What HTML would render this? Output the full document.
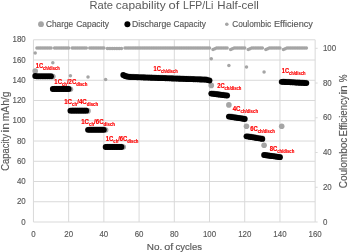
<!DOCTYPE html>
<html><head><meta charset="utf-8"><title>Rate capability of LFP/Li Half-cell</title>
<style>
html,body{margin:0;padding:0;background:#fff;}
body{width:350px;height:252px;overflow:hidden;font-family:"Liberation Sans", sans-serif;}
svg{display:block;will-change:transform;}
text{font-family:"Liberation Sans", sans-serif;}
.g text{stroke:#595959;stroke-width:0.15px;}
.g text.t{stroke:none;}
</style></head>
<body>
<svg width="350" height="252" viewBox="0 0 350 252">
<rect width="350" height="252" fill="#fff"/>
<line x1="33.44" y1="222.00" x2="315.15" y2="222.00" stroke="#d9d9d9" stroke-width="1"/>
<line x1="33.44" y1="201.76" x2="315.15" y2="201.76" stroke="#d9d9d9" stroke-width="1"/>
<line x1="33.44" y1="181.51" x2="315.15" y2="181.51" stroke="#d9d9d9" stroke-width="1"/>
<line x1="33.44" y1="161.27" x2="315.15" y2="161.27" stroke="#d9d9d9" stroke-width="1"/>
<line x1="33.44" y1="141.02" x2="315.15" y2="141.02" stroke="#d9d9d9" stroke-width="1"/>
<line x1="33.44" y1="120.78" x2="315.15" y2="120.78" stroke="#d9d9d9" stroke-width="1"/>
<line x1="33.44" y1="100.53" x2="315.15" y2="100.53" stroke="#d9d9d9" stroke-width="1"/>
<line x1="33.44" y1="80.29" x2="315.15" y2="80.29" stroke="#d9d9d9" stroke-width="1"/>
<line x1="33.44" y1="60.04" x2="315.15" y2="60.04" stroke="#d9d9d9" stroke-width="1"/>
<line x1="33.44" y1="39.80" x2="315.15" y2="39.80" stroke="#d9d9d9" stroke-width="1"/>
<line x1="33.44" y1="39.80" x2="33.44" y2="222.00" stroke="#d9d9d9" stroke-width="1"/>
<line x1="68.65" y1="39.80" x2="68.65" y2="222.00" stroke="#d9d9d9" stroke-width="1"/>
<line x1="103.87" y1="39.80" x2="103.87" y2="222.00" stroke="#d9d9d9" stroke-width="1"/>
<line x1="139.08" y1="39.80" x2="139.08" y2="222.00" stroke="#d9d9d9" stroke-width="1"/>
<line x1="174.30" y1="39.80" x2="174.30" y2="222.00" stroke="#d9d9d9" stroke-width="1"/>
<line x1="209.51" y1="39.80" x2="209.51" y2="222.00" stroke="#d9d9d9" stroke-width="1"/>
<line x1="244.72" y1="39.80" x2="244.72" y2="222.00" stroke="#d9d9d9" stroke-width="1"/>
<line x1="279.94" y1="39.80" x2="279.94" y2="222.00" stroke="#d9d9d9" stroke-width="1"/>
<line x1="315.15" y1="39.80" x2="315.15" y2="222.00" stroke="#d9d9d9" stroke-width="1"/>
<line x1="315.15" y1="222.00" x2="317.65" y2="222.00" stroke="#d9d9d9" stroke-width="1"/>
<line x1="315.15" y1="187.26" x2="317.65" y2="187.26" stroke="#d9d9d9" stroke-width="1"/>
<line x1="315.15" y1="152.52" x2="317.65" y2="152.52" stroke="#d9d9d9" stroke-width="1"/>
<line x1="315.15" y1="117.78" x2="317.65" y2="117.78" stroke="#d9d9d9" stroke-width="1"/>
<line x1="315.15" y1="83.04" x2="317.65" y2="83.04" stroke="#d9d9d9" stroke-width="1"/>
<line x1="315.15" y1="48.30" x2="317.65" y2="48.30" stroke="#d9d9d9" stroke-width="1"/>
<g fill="#a5a5a5">
<circle cx="35.20" cy="71.10" r="2.8"/>
<circle cx="36.96" cy="75.80" r="2.8"/>
<circle cx="38.72" cy="75.80" r="2.8"/>
<circle cx="40.48" cy="75.80" r="2.8"/>
<circle cx="42.24" cy="75.80" r="2.8"/>
<circle cx="44.00" cy="75.80" r="2.8"/>
<circle cx="45.76" cy="75.80" r="2.8"/>
<circle cx="47.53" cy="75.80" r="2.8"/>
<circle cx="49.29" cy="75.80" r="2.8"/>
<circle cx="51.05" cy="75.80" r="2.8"/>
<circle cx="52.81" cy="76.60" r="2.8"/>
<circle cx="54.57" cy="88.50" r="2.8"/>
<circle cx="56.33" cy="88.50" r="2.8"/>
<circle cx="58.09" cy="88.50" r="2.8"/>
<circle cx="59.85" cy="88.50" r="2.8"/>
<circle cx="61.61" cy="88.50" r="2.8"/>
<circle cx="63.37" cy="88.50" r="2.8"/>
<circle cx="65.13" cy="88.50" r="2.8"/>
<circle cx="66.89" cy="88.50" r="2.8"/>
<circle cx="68.65" cy="88.50" r="2.8"/>
<circle cx="70.41" cy="89.20" r="2.8"/>
<circle cx="72.18" cy="110.20" r="2.8"/>
<circle cx="73.94" cy="110.20" r="2.8"/>
<circle cx="75.70" cy="110.20" r="2.8"/>
<circle cx="77.46" cy="110.20" r="2.8"/>
<circle cx="79.22" cy="110.20" r="2.8"/>
<circle cx="80.98" cy="110.20" r="2.8"/>
<circle cx="82.74" cy="110.20" r="2.8"/>
<circle cx="84.50" cy="110.20" r="2.8"/>
<circle cx="86.26" cy="110.20" r="2.8"/>
<circle cx="88.02" cy="110.90" r="2.8"/>
<circle cx="89.78" cy="129.30" r="2.8"/>
<circle cx="91.54" cy="129.30" r="2.8"/>
<circle cx="93.30" cy="129.30" r="2.8"/>
<circle cx="95.06" cy="129.30" r="2.8"/>
<circle cx="96.83" cy="129.30" r="2.8"/>
<circle cx="98.59" cy="129.30" r="2.8"/>
<circle cx="100.35" cy="129.30" r="2.8"/>
<circle cx="102.11" cy="129.30" r="2.8"/>
<circle cx="103.87" cy="129.30" r="2.8"/>
<circle cx="105.63" cy="130.00" r="2.8"/>
<circle cx="107.39" cy="146.50" r="2.8"/>
<circle cx="109.15" cy="146.50" r="2.8"/>
<circle cx="110.91" cy="146.50" r="2.8"/>
<circle cx="112.67" cy="146.50" r="2.8"/>
<circle cx="114.43" cy="146.50" r="2.8"/>
<circle cx="116.19" cy="146.50" r="2.8"/>
<circle cx="117.95" cy="146.50" r="2.8"/>
<circle cx="119.71" cy="146.50" r="2.8"/>
<circle cx="121.47" cy="146.50" r="2.8"/>
<circle cx="123.24" cy="147.00" r="2.8"/>
<circle cx="125.00" cy="75.50" r="2.8"/>
<circle cx="126.76" cy="76.00" r="2.8"/>
<circle cx="128.52" cy="76.30" r="2.8"/>
<circle cx="130.28" cy="76.50" r="2.8"/>
<circle cx="132.04" cy="76.56" r="2.8"/>
<circle cx="133.80" cy="76.62" r="2.8"/>
<circle cx="135.56" cy="76.69" r="2.8"/>
<circle cx="137.32" cy="76.75" r="2.8"/>
<circle cx="139.08" cy="76.81" r="2.8"/>
<circle cx="140.84" cy="76.87" r="2.8"/>
<circle cx="142.60" cy="76.94" r="2.8"/>
<circle cx="144.36" cy="77.00" r="2.8"/>
<circle cx="146.12" cy="77.06" r="2.8"/>
<circle cx="147.89" cy="77.12" r="2.8"/>
<circle cx="149.65" cy="77.18" r="2.8"/>
<circle cx="151.41" cy="77.25" r="2.8"/>
<circle cx="153.17" cy="77.31" r="2.8"/>
<circle cx="154.93" cy="77.37" r="2.8"/>
<circle cx="156.69" cy="77.43" r="2.8"/>
<circle cx="158.45" cy="77.50" r="2.8"/>
<circle cx="160.21" cy="77.56" r="2.8"/>
<circle cx="161.97" cy="77.62" r="2.8"/>
<circle cx="163.73" cy="77.68" r="2.8"/>
<circle cx="165.49" cy="77.74" r="2.8"/>
<circle cx="167.25" cy="77.81" r="2.8"/>
<circle cx="169.01" cy="77.87" r="2.8"/>
<circle cx="170.77" cy="77.93" r="2.8"/>
<circle cx="172.54" cy="77.99" r="2.8"/>
<circle cx="174.30" cy="78.06" r="2.8"/>
<circle cx="176.06" cy="78.12" r="2.8"/>
<circle cx="177.82" cy="78.18" r="2.8"/>
<circle cx="179.58" cy="78.24" r="2.8"/>
<circle cx="181.34" cy="78.30" r="2.8"/>
<circle cx="183.10" cy="78.37" r="2.8"/>
<circle cx="184.86" cy="78.43" r="2.8"/>
<circle cx="186.62" cy="78.49" r="2.8"/>
<circle cx="188.38" cy="78.55" r="2.8"/>
<circle cx="190.14" cy="78.62" r="2.8"/>
<circle cx="191.90" cy="78.68" r="2.8"/>
<circle cx="193.66" cy="78.74" r="2.8"/>
<circle cx="195.42" cy="78.80" r="2.8"/>
<circle cx="197.19" cy="78.86" r="2.8"/>
<circle cx="198.95" cy="78.93" r="2.8"/>
<circle cx="200.71" cy="78.99" r="2.8"/>
<circle cx="202.47" cy="79.05" r="2.8"/>
<circle cx="204.23" cy="79.11" r="2.8"/>
<circle cx="205.99" cy="79.18" r="2.8"/>
<circle cx="207.75" cy="79.60" r="2.8"/>
<circle cx="209.51" cy="80.10" r="2.8"/>
<circle cx="211.27" cy="85.40" r="2.8"/>
<circle cx="213.03" cy="93.32" r="2.8"/>
<circle cx="214.79" cy="93.54" r="2.8"/>
<circle cx="216.55" cy="93.77" r="2.8"/>
<circle cx="218.31" cy="93.99" r="2.8"/>
<circle cx="220.07" cy="94.21" r="2.8"/>
<circle cx="221.83" cy="94.43" r="2.8"/>
<circle cx="223.60" cy="94.66" r="2.8"/>
<circle cx="225.36" cy="94.88" r="2.8"/>
<circle cx="227.12" cy="95.10" r="2.8"/>
<circle cx="228.88" cy="104.90" r="2.8"/>
<circle cx="230.64" cy="116.37" r="2.8"/>
<circle cx="232.40" cy="116.63" r="2.8"/>
<circle cx="234.16" cy="116.90" r="2.8"/>
<circle cx="235.92" cy="117.17" r="2.8"/>
<circle cx="237.68" cy="117.43" r="2.8"/>
<circle cx="239.44" cy="117.70" r="2.8"/>
<circle cx="241.20" cy="117.97" r="2.8"/>
<circle cx="242.96" cy="118.23" r="2.8"/>
<circle cx="244.72" cy="118.50" r="2.8"/>
<circle cx="246.48" cy="126.30" r="2.8"/>
<circle cx="248.25" cy="136.09" r="2.8"/>
<circle cx="250.01" cy="136.38" r="2.8"/>
<circle cx="251.77" cy="136.67" r="2.8"/>
<circle cx="253.53" cy="136.96" r="2.8"/>
<circle cx="255.29" cy="137.24" r="2.8"/>
<circle cx="257.05" cy="137.53" r="2.8"/>
<circle cx="258.81" cy="137.82" r="2.8"/>
<circle cx="260.57" cy="138.11" r="2.8"/>
<circle cx="262.33" cy="138.40" r="2.8"/>
<circle cx="264.09" cy="145.20" r="2.8"/>
<circle cx="265.85" cy="154.74" r="2.8"/>
<circle cx="267.61" cy="154.99" r="2.8"/>
<circle cx="269.37" cy="155.23" r="2.8"/>
<circle cx="271.13" cy="155.48" r="2.8"/>
<circle cx="272.90" cy="155.72" r="2.8"/>
<circle cx="274.66" cy="155.97" r="2.8"/>
<circle cx="276.42" cy="156.21" r="2.8"/>
<circle cx="278.18" cy="156.46" r="2.8"/>
<circle cx="279.94" cy="156.70" r="2.8"/>
<circle cx="281.70" cy="126.30" r="2.8"/>
<circle cx="283.46" cy="81.39" r="2.8"/>
<circle cx="285.22" cy="81.49" r="2.8"/>
<circle cx="286.98" cy="81.58" r="2.8"/>
<circle cx="288.74" cy="81.67" r="2.8"/>
<circle cx="290.50" cy="81.76" r="2.8"/>
<circle cx="292.26" cy="81.86" r="2.8"/>
<circle cx="294.02" cy="81.95" r="2.8"/>
<circle cx="295.78" cy="82.04" r="2.8"/>
<circle cx="297.55" cy="82.14" r="2.8"/>
<circle cx="299.31" cy="82.23" r="2.8"/>
<circle cx="301.07" cy="82.32" r="2.8"/>
<circle cx="302.83" cy="82.41" r="2.8"/>
<circle cx="304.59" cy="82.51" r="2.8"/>
<circle cx="306.35" cy="82.60" r="2.8"/>
</g>
<g fill="#000">
<circle cx="35.20" cy="76.00" r="2.9"/>
<circle cx="36.96" cy="76.30" r="2.9"/>
<circle cx="38.72" cy="76.30" r="2.9"/>
<circle cx="40.48" cy="76.30" r="2.9"/>
<circle cx="42.24" cy="76.30" r="2.9"/>
<circle cx="44.00" cy="76.30" r="2.9"/>
<circle cx="45.76" cy="76.30" r="2.9"/>
<circle cx="47.53" cy="76.30" r="2.9"/>
<circle cx="49.29" cy="76.30" r="2.9"/>
<circle cx="51.05" cy="76.30" r="2.9"/>
<circle cx="52.81" cy="89.00" r="2.9"/>
<circle cx="54.57" cy="89.00" r="2.9"/>
<circle cx="56.33" cy="89.00" r="2.9"/>
<circle cx="58.09" cy="89.00" r="2.9"/>
<circle cx="59.85" cy="89.00" r="2.9"/>
<circle cx="61.61" cy="89.00" r="2.9"/>
<circle cx="63.37" cy="89.00" r="2.9"/>
<circle cx="65.13" cy="89.00" r="2.9"/>
<circle cx="66.89" cy="89.00" r="2.9"/>
<circle cx="68.65" cy="89.00" r="2.9"/>
<circle cx="70.41" cy="110.70" r="2.9"/>
<circle cx="72.18" cy="110.70" r="2.9"/>
<circle cx="73.94" cy="110.70" r="2.9"/>
<circle cx="75.70" cy="110.70" r="2.9"/>
<circle cx="77.46" cy="110.70" r="2.9"/>
<circle cx="79.22" cy="110.70" r="2.9"/>
<circle cx="80.98" cy="110.70" r="2.9"/>
<circle cx="82.74" cy="110.70" r="2.9"/>
<circle cx="84.50" cy="110.70" r="2.9"/>
<circle cx="86.26" cy="110.70" r="2.9"/>
<circle cx="88.02" cy="129.80" r="2.9"/>
<circle cx="89.78" cy="129.80" r="2.9"/>
<circle cx="91.54" cy="129.80" r="2.9"/>
<circle cx="93.30" cy="129.80" r="2.9"/>
<circle cx="95.06" cy="129.80" r="2.9"/>
<circle cx="96.83" cy="129.80" r="2.9"/>
<circle cx="98.59" cy="129.80" r="2.9"/>
<circle cx="100.35" cy="129.80" r="2.9"/>
<circle cx="102.11" cy="129.80" r="2.9"/>
<circle cx="103.87" cy="129.80" r="2.9"/>
<circle cx="105.63" cy="147.00" r="2.9"/>
<circle cx="107.39" cy="147.00" r="2.9"/>
<circle cx="109.15" cy="147.00" r="2.9"/>
<circle cx="110.91" cy="147.00" r="2.9"/>
<circle cx="112.67" cy="147.00" r="2.9"/>
<circle cx="114.43" cy="147.00" r="2.9"/>
<circle cx="116.19" cy="147.00" r="2.9"/>
<circle cx="117.95" cy="147.00" r="2.9"/>
<circle cx="119.71" cy="147.00" r="2.9"/>
<circle cx="121.47" cy="147.00" r="2.9"/>
<circle cx="123.24" cy="75.00" r="2.9"/>
<circle cx="125.00" cy="76.00" r="2.9"/>
<circle cx="126.76" cy="76.50" r="2.9"/>
<circle cx="128.52" cy="76.80" r="2.9"/>
<circle cx="130.28" cy="77.00" r="2.9"/>
<circle cx="132.04" cy="77.06" r="2.9"/>
<circle cx="133.80" cy="77.12" r="2.9"/>
<circle cx="135.56" cy="77.19" r="2.9"/>
<circle cx="137.32" cy="77.25" r="2.9"/>
<circle cx="139.08" cy="77.31" r="2.9"/>
<circle cx="140.84" cy="77.37" r="2.9"/>
<circle cx="142.60" cy="77.44" r="2.9"/>
<circle cx="144.36" cy="77.50" r="2.9"/>
<circle cx="146.12" cy="77.56" r="2.9"/>
<circle cx="147.89" cy="77.62" r="2.9"/>
<circle cx="149.65" cy="77.68" r="2.9"/>
<circle cx="151.41" cy="77.75" r="2.9"/>
<circle cx="153.17" cy="77.81" r="2.9"/>
<circle cx="154.93" cy="77.87" r="2.9"/>
<circle cx="156.69" cy="77.93" r="2.9"/>
<circle cx="158.45" cy="78.00" r="2.9"/>
<circle cx="160.21" cy="78.06" r="2.9"/>
<circle cx="161.97" cy="78.12" r="2.9"/>
<circle cx="163.73" cy="78.18" r="2.9"/>
<circle cx="165.49" cy="78.24" r="2.9"/>
<circle cx="167.25" cy="78.31" r="2.9"/>
<circle cx="169.01" cy="78.37" r="2.9"/>
<circle cx="170.77" cy="78.43" r="2.9"/>
<circle cx="172.54" cy="78.49" r="2.9"/>
<circle cx="174.30" cy="78.56" r="2.9"/>
<circle cx="176.06" cy="78.62" r="2.9"/>
<circle cx="177.82" cy="78.68" r="2.9"/>
<circle cx="179.58" cy="78.74" r="2.9"/>
<circle cx="181.34" cy="78.80" r="2.9"/>
<circle cx="183.10" cy="78.87" r="2.9"/>
<circle cx="184.86" cy="78.93" r="2.9"/>
<circle cx="186.62" cy="78.99" r="2.9"/>
<circle cx="188.38" cy="79.05" r="2.9"/>
<circle cx="190.14" cy="79.12" r="2.9"/>
<circle cx="191.90" cy="79.18" r="2.9"/>
<circle cx="193.66" cy="79.24" r="2.9"/>
<circle cx="195.42" cy="79.30" r="2.9"/>
<circle cx="197.19" cy="79.36" r="2.9"/>
<circle cx="198.95" cy="79.43" r="2.9"/>
<circle cx="200.71" cy="79.49" r="2.9"/>
<circle cx="202.47" cy="79.55" r="2.9"/>
<circle cx="204.23" cy="79.61" r="2.9"/>
<circle cx="205.99" cy="79.68" r="2.9"/>
<circle cx="207.75" cy="80.10" r="2.9"/>
<circle cx="209.51" cy="80.60" r="2.9"/>
<circle cx="211.27" cy="93.60" r="2.9"/>
<circle cx="213.03" cy="93.82" r="2.9"/>
<circle cx="214.79" cy="94.04" r="2.9"/>
<circle cx="216.55" cy="94.27" r="2.9"/>
<circle cx="218.31" cy="94.49" r="2.9"/>
<circle cx="220.07" cy="94.71" r="2.9"/>
<circle cx="221.83" cy="94.93" r="2.9"/>
<circle cx="223.60" cy="95.16" r="2.9"/>
<circle cx="225.36" cy="95.38" r="2.9"/>
<circle cx="227.12" cy="95.60" r="2.9"/>
<circle cx="228.88" cy="116.60" r="2.9"/>
<circle cx="230.64" cy="116.87" r="2.9"/>
<circle cx="232.40" cy="117.13" r="2.9"/>
<circle cx="234.16" cy="117.40" r="2.9"/>
<circle cx="235.92" cy="117.67" r="2.9"/>
<circle cx="237.68" cy="117.93" r="2.9"/>
<circle cx="239.44" cy="118.20" r="2.9"/>
<circle cx="241.20" cy="118.47" r="2.9"/>
<circle cx="242.96" cy="118.73" r="2.9"/>
<circle cx="244.72" cy="119.00" r="2.9"/>
<circle cx="246.48" cy="136.30" r="2.9"/>
<circle cx="248.25" cy="136.59" r="2.9"/>
<circle cx="250.01" cy="136.88" r="2.9"/>
<circle cx="251.77" cy="137.17" r="2.9"/>
<circle cx="253.53" cy="137.46" r="2.9"/>
<circle cx="255.29" cy="137.74" r="2.9"/>
<circle cx="257.05" cy="138.03" r="2.9"/>
<circle cx="258.81" cy="138.32" r="2.9"/>
<circle cx="260.57" cy="138.61" r="2.9"/>
<circle cx="262.33" cy="138.90" r="2.9"/>
<circle cx="264.09" cy="155.00" r="2.9"/>
<circle cx="265.85" cy="155.24" r="2.9"/>
<circle cx="267.61" cy="155.49" r="2.9"/>
<circle cx="269.37" cy="155.73" r="2.9"/>
<circle cx="271.13" cy="155.98" r="2.9"/>
<circle cx="272.90" cy="156.22" r="2.9"/>
<circle cx="274.66" cy="156.47" r="2.9"/>
<circle cx="276.42" cy="156.71" r="2.9"/>
<circle cx="278.18" cy="156.96" r="2.9"/>
<circle cx="279.94" cy="157.20" r="2.9"/>
<circle cx="281.70" cy="81.80" r="2.9"/>
<circle cx="283.46" cy="81.89" r="2.9"/>
<circle cx="285.22" cy="81.99" r="2.9"/>
<circle cx="286.98" cy="82.08" r="2.9"/>
<circle cx="288.74" cy="82.17" r="2.9"/>
<circle cx="290.50" cy="82.26" r="2.9"/>
<circle cx="292.26" cy="82.36" r="2.9"/>
<circle cx="294.02" cy="82.45" r="2.9"/>
<circle cx="295.78" cy="82.54" r="2.9"/>
<circle cx="297.55" cy="82.64" r="2.9"/>
<circle cx="299.31" cy="82.73" r="2.9"/>
<circle cx="301.07" cy="82.82" r="2.9"/>
<circle cx="302.83" cy="82.91" r="2.9"/>
<circle cx="304.59" cy="83.01" r="2.9"/>
<circle cx="306.35" cy="83.10" r="2.9"/>
</g>
<g fill="#a5a5a5">
<circle cx="35.20" cy="53.00" r="1.75"/>
<circle cx="36.96" cy="48.10" r="1.75"/>
<circle cx="38.72" cy="48.10" r="1.75"/>
<circle cx="40.48" cy="48.10" r="1.75"/>
<circle cx="42.24" cy="48.10" r="1.75"/>
<circle cx="44.00" cy="48.10" r="1.75"/>
<circle cx="45.76" cy="48.10" r="1.75"/>
<circle cx="47.53" cy="48.10" r="1.75"/>
<circle cx="49.29" cy="48.10" r="1.75"/>
<circle cx="51.05" cy="48.10" r="1.75"/>
<circle cx="52.81" cy="62.80" r="1.75"/>
<circle cx="54.57" cy="48.10" r="1.75"/>
<circle cx="56.33" cy="48.10" r="1.75"/>
<circle cx="58.09" cy="48.10" r="1.75"/>
<circle cx="59.85" cy="48.10" r="1.75"/>
<circle cx="61.61" cy="48.10" r="1.75"/>
<circle cx="63.37" cy="48.10" r="1.75"/>
<circle cx="65.13" cy="48.10" r="1.75"/>
<circle cx="66.89" cy="48.10" r="1.75"/>
<circle cx="68.65" cy="48.10" r="1.75"/>
<circle cx="70.41" cy="75.70" r="1.75"/>
<circle cx="72.18" cy="48.10" r="1.75"/>
<circle cx="73.94" cy="48.10" r="1.75"/>
<circle cx="75.70" cy="48.10" r="1.75"/>
<circle cx="77.46" cy="48.10" r="1.75"/>
<circle cx="79.22" cy="48.10" r="1.75"/>
<circle cx="80.98" cy="48.10" r="1.75"/>
<circle cx="82.74" cy="48.10" r="1.75"/>
<circle cx="84.50" cy="48.10" r="1.75"/>
<circle cx="86.26" cy="48.10" r="1.75"/>
<circle cx="88.02" cy="77.10" r="1.75"/>
<circle cx="89.78" cy="48.10" r="1.75"/>
<circle cx="91.54" cy="48.10" r="1.75"/>
<circle cx="93.30" cy="48.10" r="1.75"/>
<circle cx="95.06" cy="48.10" r="1.75"/>
<circle cx="96.83" cy="48.10" r="1.75"/>
<circle cx="98.59" cy="48.10" r="1.75"/>
<circle cx="100.35" cy="48.10" r="1.75"/>
<circle cx="102.11" cy="48.10" r="1.75"/>
<circle cx="103.87" cy="48.10" r="1.75"/>
<circle cx="105.63" cy="79.50" r="1.75"/>
<circle cx="107.39" cy="48.40" r="1.75"/>
<circle cx="109.15" cy="48.40" r="1.75"/>
<circle cx="110.91" cy="48.40" r="1.75"/>
<circle cx="112.67" cy="48.40" r="1.75"/>
<circle cx="114.43" cy="48.40" r="1.75"/>
<circle cx="116.19" cy="48.40" r="1.75"/>
<circle cx="117.95" cy="48.40" r="1.75"/>
<circle cx="119.71" cy="48.40" r="1.75"/>
<circle cx="121.47" cy="48.40" r="1.75"/>
<circle cx="125.00" cy="48.10" r="1.75"/>
<circle cx="126.76" cy="48.10" r="1.75"/>
<circle cx="128.52" cy="48.10" r="1.75"/>
<circle cx="130.28" cy="48.10" r="1.75"/>
<circle cx="132.04" cy="48.10" r="1.75"/>
<circle cx="133.80" cy="48.10" r="1.75"/>
<circle cx="135.56" cy="48.10" r="1.75"/>
<circle cx="137.32" cy="48.10" r="1.75"/>
<circle cx="139.08" cy="48.10" r="1.75"/>
<circle cx="140.84" cy="48.10" r="1.75"/>
<circle cx="142.60" cy="48.10" r="1.75"/>
<circle cx="144.36" cy="48.10" r="1.75"/>
<circle cx="146.12" cy="48.10" r="1.75"/>
<circle cx="147.89" cy="48.10" r="1.75"/>
<circle cx="149.65" cy="48.10" r="1.75"/>
<circle cx="151.41" cy="48.10" r="1.75"/>
<circle cx="153.17" cy="48.10" r="1.75"/>
<circle cx="154.93" cy="48.10" r="1.75"/>
<circle cx="156.69" cy="48.10" r="1.75"/>
<circle cx="158.45" cy="48.10" r="1.75"/>
<circle cx="160.21" cy="48.10" r="1.75"/>
<circle cx="161.97" cy="48.10" r="1.75"/>
<circle cx="163.73" cy="48.10" r="1.75"/>
<circle cx="165.49" cy="48.10" r="1.75"/>
<circle cx="167.25" cy="48.10" r="1.75"/>
<circle cx="169.01" cy="48.10" r="1.75"/>
<circle cx="170.77" cy="48.10" r="1.75"/>
<circle cx="172.54" cy="48.10" r="1.75"/>
<circle cx="174.30" cy="48.10" r="1.75"/>
<circle cx="176.06" cy="48.10" r="1.75"/>
<circle cx="177.82" cy="48.10" r="1.75"/>
<circle cx="179.58" cy="48.10" r="1.75"/>
<circle cx="181.34" cy="48.10" r="1.75"/>
<circle cx="183.10" cy="48.10" r="1.75"/>
<circle cx="184.86" cy="48.10" r="1.75"/>
<circle cx="186.62" cy="48.10" r="1.75"/>
<circle cx="188.38" cy="48.10" r="1.75"/>
<circle cx="190.14" cy="48.10" r="1.75"/>
<circle cx="191.90" cy="48.10" r="1.75"/>
<circle cx="193.66" cy="48.10" r="1.75"/>
<circle cx="195.42" cy="48.10" r="1.75"/>
<circle cx="197.19" cy="48.10" r="1.75"/>
<circle cx="198.95" cy="48.10" r="1.75"/>
<circle cx="200.71" cy="48.10" r="1.75"/>
<circle cx="202.47" cy="48.10" r="1.75"/>
<circle cx="204.23" cy="48.10" r="1.75"/>
<circle cx="205.99" cy="48.10" r="1.75"/>
<circle cx="207.75" cy="48.10" r="1.75"/>
<circle cx="209.51" cy="48.10" r="1.75"/>
<circle cx="211.27" cy="58.80" r="1.75"/>
<circle cx="213.03" cy="49.40" r="1.75"/>
<circle cx="214.79" cy="48.70" r="1.75"/>
<circle cx="216.55" cy="48.10" r="1.75"/>
<circle cx="218.31" cy="48.10" r="1.75"/>
<circle cx="220.07" cy="48.10" r="1.75"/>
<circle cx="221.83" cy="48.10" r="1.75"/>
<circle cx="223.60" cy="48.10" r="1.75"/>
<circle cx="225.36" cy="48.10" r="1.75"/>
<circle cx="227.12" cy="48.10" r="1.75"/>
<circle cx="228.88" cy="65.40" r="1.75"/>
<circle cx="230.64" cy="49.40" r="1.75"/>
<circle cx="232.40" cy="48.70" r="1.75"/>
<circle cx="234.16" cy="48.10" r="1.75"/>
<circle cx="235.92" cy="48.10" r="1.75"/>
<circle cx="237.68" cy="48.10" r="1.75"/>
<circle cx="239.44" cy="48.10" r="1.75"/>
<circle cx="241.20" cy="48.10" r="1.75"/>
<circle cx="242.96" cy="48.10" r="1.75"/>
<circle cx="244.72" cy="48.10" r="1.75"/>
<circle cx="246.48" cy="67.10" r="1.75"/>
<circle cx="248.25" cy="49.40" r="1.75"/>
<circle cx="250.01" cy="48.70" r="1.75"/>
<circle cx="251.77" cy="48.10" r="1.75"/>
<circle cx="253.53" cy="48.10" r="1.75"/>
<circle cx="255.29" cy="48.10" r="1.75"/>
<circle cx="257.05" cy="48.10" r="1.75"/>
<circle cx="258.81" cy="48.10" r="1.75"/>
<circle cx="260.57" cy="48.10" r="1.75"/>
<circle cx="262.33" cy="48.10" r="1.75"/>
<circle cx="264.09" cy="72.00" r="1.75"/>
<circle cx="265.85" cy="49.40" r="1.75"/>
<circle cx="267.61" cy="48.70" r="1.75"/>
<circle cx="269.37" cy="48.10" r="1.75"/>
<circle cx="271.13" cy="48.10" r="1.75"/>
<circle cx="272.90" cy="48.10" r="1.75"/>
<circle cx="274.66" cy="48.10" r="1.75"/>
<circle cx="276.42" cy="48.10" r="1.75"/>
<circle cx="278.18" cy="48.10" r="1.75"/>
<circle cx="279.94" cy="48.10" r="1.75"/>
<circle cx="283.46" cy="49.40" r="1.75"/>
<circle cx="285.22" cy="48.70" r="1.75"/>
<circle cx="286.98" cy="48.10" r="1.75"/>
<circle cx="288.74" cy="48.10" r="1.75"/>
<circle cx="290.50" cy="48.10" r="1.75"/>
<circle cx="292.26" cy="48.10" r="1.75"/>
<circle cx="294.02" cy="48.10" r="1.75"/>
<circle cx="295.78" cy="48.10" r="1.75"/>
<circle cx="297.55" cy="48.10" r="1.75"/>
<circle cx="299.31" cy="48.10" r="1.75"/>
<circle cx="301.07" cy="48.10" r="1.75"/>
<circle cx="302.83" cy="48.10" r="1.75"/>
<circle cx="304.59" cy="48.10" r="1.75"/>
<circle cx="306.35" cy="48.10" r="1.75"/>
</g>
<g class="g">
<text x="89.49" y="9.4" font-size="10.2" fill="#595959" text-anchor="start" font-weight="normal" textLength="23.51" lengthAdjust="spacingAndGlyphs" class="t">Rate</text>
<text x="115.8" y="9.4" font-size="10.2" fill="#595959" text-anchor="start" font-weight="normal" textLength="49.83" lengthAdjust="spacingAndGlyphs" class="t">capability</text>
<text x="168.46" y="9.4" font-size="10.2" fill="#595959" text-anchor="start" font-weight="normal" textLength="10.82" lengthAdjust="spacingAndGlyphs" class="t">of</text>
<text x="183.14" y="9.4" font-size="10.2" fill="#595959" text-anchor="start" font-weight="normal" textLength="30.16" lengthAdjust="spacingAndGlyphs" class="t">LFP/Li</text>
<text x="217.36" y="9.4" font-size="10.2" fill="#595959" text-anchor="start" font-weight="normal" textLength="41.39" lengthAdjust="spacingAndGlyphs" class="t">Half-cell</text>
<text x="45.88" y="27.3" font-size="8.7" fill="#595959" text-anchor="start" font-weight="normal" textLength="27.28" lengthAdjust="spacingAndGlyphs" >Charge</text>
<text x="76.18" y="27.3" font-size="8.7" fill="#595959" text-anchor="start" font-weight="normal" textLength="32.84" lengthAdjust="spacingAndGlyphs" >Capacity</text>
<text x="132.09" y="27.3" font-size="8.7" fill="#595959" text-anchor="start" font-weight="normal" textLength="38.99" lengthAdjust="spacingAndGlyphs" >Discharge</text>
<text x="173.58" y="27.3" font-size="8.7" fill="#595959" text-anchor="start" font-weight="normal" textLength="32.43" lengthAdjust="spacingAndGlyphs" >Capacity</text>
<text x="232.19" y="27.3" font-size="8.7" fill="#595959" text-anchor="start" font-weight="normal" textLength="38.93" lengthAdjust="spacingAndGlyphs" >Coulombic</text>
<text x="273.95" y="27.3" font-size="8.7" fill="#595959" text-anchor="start" font-weight="normal" textLength="38.97" lengthAdjust="spacingAndGlyphs" >Efficiency</text>
<text x="146.79" y="249.7" font-size="9.6" fill="#595959" text-anchor="start" font-weight="normal" textLength="15.42" lengthAdjust="spacingAndGlyphs" >No.</text>
<text x="164.25" y="249.7" font-size="9.6" fill="#595959" text-anchor="start" font-weight="normal" textLength="9.03" lengthAdjust="spacingAndGlyphs" >of</text>
<text x="175.5" y="249.7" font-size="9.6" fill="#595959" text-anchor="start" font-weight="normal" textLength="26.45" lengthAdjust="spacingAndGlyphs" >cycles</text>
<circle cx="41.0" cy="24.2" r="2.9" fill="#a5a5a5"/>
<circle cx="127.4" cy="24.3" r="3.0" fill="#000"/>
<circle cx="226.8" cy="24.2" r="1.8" fill="#a5a5a5"/>
<text x="25.7" y="224.60" font-size="8.5" fill="#595959" text-anchor="end" font-weight="normal" textLength="4.4" lengthAdjust="spacingAndGlyphs" >0</text>
<text x="25.7" y="204.36" font-size="8.5" fill="#595959" text-anchor="end" font-weight="normal" textLength="8.79" lengthAdjust="spacingAndGlyphs" >20</text>
<text x="25.7" y="184.11" font-size="8.5" fill="#595959" text-anchor="end" font-weight="normal" textLength="8.79" lengthAdjust="spacingAndGlyphs" >40</text>
<text x="25.7" y="163.87" font-size="8.5" fill="#595959" text-anchor="end" font-weight="normal" textLength="8.79" lengthAdjust="spacingAndGlyphs" >60</text>
<text x="25.7" y="143.62" font-size="8.5" fill="#595959" text-anchor="end" font-weight="normal" textLength="8.79" lengthAdjust="spacingAndGlyphs" >80</text>
<text x="25.7" y="123.38" font-size="8.5" fill="#595959" text-anchor="end" font-weight="normal" textLength="13.19" lengthAdjust="spacingAndGlyphs" >100</text>
<text x="25.7" y="103.13" font-size="8.5" fill="#595959" text-anchor="end" font-weight="normal" textLength="13.19" lengthAdjust="spacingAndGlyphs" >120</text>
<text x="25.7" y="82.89" font-size="8.5" fill="#595959" text-anchor="end" font-weight="normal" textLength="13.19" lengthAdjust="spacingAndGlyphs" >140</text>
<text x="25.7" y="62.64" font-size="8.5" fill="#595959" text-anchor="end" font-weight="normal" textLength="13.19" lengthAdjust="spacingAndGlyphs" >160</text>
<text x="25.7" y="42.40" font-size="8.5" fill="#595959" text-anchor="end" font-weight="normal" textLength="13.19" lengthAdjust="spacingAndGlyphs" >180</text>
<text x="322.9" y="224.60" font-size="8.5" fill="#595959" text-anchor="start" font-weight="normal" textLength="4.4" lengthAdjust="spacingAndGlyphs" >0</text>
<text x="322.9" y="189.86" font-size="8.5" fill="#595959" text-anchor="start" font-weight="normal" textLength="8.79" lengthAdjust="spacingAndGlyphs" >20</text>
<text x="322.9" y="155.12" font-size="8.5" fill="#595959" text-anchor="start" font-weight="normal" textLength="8.79" lengthAdjust="spacingAndGlyphs" >40</text>
<text x="322.9" y="120.38" font-size="8.5" fill="#595959" text-anchor="start" font-weight="normal" textLength="8.79" lengthAdjust="spacingAndGlyphs" >60</text>
<text x="322.9" y="85.64" font-size="8.5" fill="#595959" text-anchor="start" font-weight="normal" textLength="8.79" lengthAdjust="spacingAndGlyphs" >80</text>
<text x="322.9" y="50.90" font-size="8.5" fill="#595959" text-anchor="start" font-weight="normal" textLength="13.19" lengthAdjust="spacingAndGlyphs" >100</text>
<text x="33.44" y="236.8" font-size="8.5" fill="#595959" text-anchor="middle" font-weight="normal" textLength="4.4" lengthAdjust="spacingAndGlyphs" >0</text>
<text x="68.65" y="236.8" font-size="8.5" fill="#595959" text-anchor="middle" font-weight="normal" textLength="8.79" lengthAdjust="spacingAndGlyphs" >20</text>
<text x="103.87" y="236.8" font-size="8.5" fill="#595959" text-anchor="middle" font-weight="normal" textLength="8.79" lengthAdjust="spacingAndGlyphs" >40</text>
<text x="139.08" y="236.8" font-size="8.5" fill="#595959" text-anchor="middle" font-weight="normal" textLength="8.79" lengthAdjust="spacingAndGlyphs" >60</text>
<text x="174.30" y="236.8" font-size="8.5" fill="#595959" text-anchor="middle" font-weight="normal" textLength="8.79" lengthAdjust="spacingAndGlyphs" >80</text>
<text x="209.51" y="236.8" font-size="8.5" fill="#595959" text-anchor="middle" font-weight="normal" textLength="13.19" lengthAdjust="spacingAndGlyphs" >100</text>
<text x="244.72" y="236.8" font-size="8.5" fill="#595959" text-anchor="middle" font-weight="normal" textLength="13.19" lengthAdjust="spacingAndGlyphs" >120</text>
<text x="279.94" y="236.8" font-size="8.5" fill="#595959" text-anchor="middle" font-weight="normal" textLength="13.19" lengthAdjust="spacingAndGlyphs" >140</text>
<text x="315.15" y="236.8" font-size="8.5" fill="#595959" text-anchor="middle" font-weight="normal" textLength="13.19" lengthAdjust="spacingAndGlyphs" >160</text>
<text x="0" y="0" font-size="10.5" fill="#595959" textLength="36.59" lengthAdjust="spacingAndGlyphs" transform="translate(8.8,170.67) rotate(-90)">Capacity</text>
<text x="0" y="0" font-size="10.5" fill="#595959" textLength="9.49" lengthAdjust="spacingAndGlyphs" transform="translate(8.8,132.5) rotate(-90)">in</text>
<text x="0" y="0" font-size="10.5" fill="#595959" textLength="29.84" lengthAdjust="spacingAndGlyphs" transform="translate(8.8,121.28) rotate(-90)">mAh/g</text>
<text x="0" y="0" font-size="10.3" fill="#595959" textLength="50.66" lengthAdjust="spacingAndGlyphs" transform="translate(347.4,188.3) rotate(-90)">Coulomboc</text>
<text x="0" y="0" font-size="10.3" fill="#595959" textLength="41.01" lengthAdjust="spacingAndGlyphs" transform="translate(347.4,136.39) rotate(-90)">Efficiency</text>
<text x="0" y="0" font-size="10.3" fill="#595959" textLength="9.49" lengthAdjust="spacingAndGlyphs" transform="translate(347.4,94.6) rotate(-90)">in</text>
<text x="0" y="0" font-size="10.3" fill="#595959" textLength="7.71" lengthAdjust="spacingAndGlyphs" transform="translate(347.4,82.2) rotate(-90)">%</text>
</g>
<text id="L1" x="35.72" y="68.20" fill="#ff0000" stroke="#ff0000" stroke-width="0.18" font-weight="bold" font-size="6.4" textLength="24.03" lengthAdjust="spacingAndGlyphs"><tspan>1C</tspan><tspan font-size="4.6" dy="2.0">ch/disch</tspan></text>
<text id="L2" x="54.34" y="84.10" fill="#ff0000" stroke="#ff0000" stroke-width="0.18" font-weight="bold" font-size="6.4" textLength="33.02" lengthAdjust="spacingAndGlyphs"><tspan>1C</tspan><tspan font-size="4.6" dy="2.0">ch</tspan><tspan dy="-2.0">/2C</tspan><tspan font-size="4.6" dy="2.0">disch</tspan></text>
<text id="L3" x="64.22" y="104.10" fill="#ff0000" stroke="#ff0000" stroke-width="0.18" font-weight="bold" font-size="6.4" textLength="34.00" lengthAdjust="spacingAndGlyphs"><tspan>1C</tspan><tspan font-size="4.6" dy="2.0">ch</tspan><tspan dy="-2.0">/4C</tspan><tspan font-size="4.6" dy="2.0">disch</tspan></text>
<text id="L4" x="81.16" y="123.50" fill="#ff0000" stroke="#ff0000" stroke-width="0.18" font-weight="bold" font-size="6.4" textLength="33.90" lengthAdjust="spacingAndGlyphs"><tspan>1C</tspan><tspan font-size="4.6" dy="2.0">ch</tspan><tspan dy="-2.0">/6C</tspan><tspan font-size="4.6" dy="2.0">disch</tspan></text>
<text id="L5" x="105.78" y="140.50" fill="#ff0000" stroke="#ff0000" stroke-width="0.18" font-weight="bold" font-size="6.4" textLength="32.60" lengthAdjust="spacingAndGlyphs"><tspan>1C</tspan><tspan font-size="4.6" dy="2.0">ch</tspan><tspan dy="-2.0">/6C</tspan><tspan font-size="4.6" dy="2.0">disch</tspan></text>
<text id="L6" x="153.60" y="71.30" fill="#ff0000" stroke="#ff0000" stroke-width="0.18" font-weight="bold" font-size="6.4" textLength="24.10" lengthAdjust="spacingAndGlyphs"><tspan>1C</tspan><tspan font-size="4.6" dy="2.0">ch/disch</tspan></text>
<text id="L7" x="217.22" y="88.00" fill="#ff0000" stroke="#ff0000" stroke-width="0.18" font-weight="bold" font-size="6.4" textLength="24.13" lengthAdjust="spacingAndGlyphs"><tspan>2C</tspan><tspan font-size="4.6" dy="2.0">ch/disch</tspan></text>
<text id="L8" x="232.78" y="111.10" fill="#ff0000" stroke="#ff0000" stroke-width="0.18" font-weight="bold" font-size="6.4" textLength="25.27" lengthAdjust="spacingAndGlyphs"><tspan>4C</tspan><tspan font-size="4.6" dy="2.0">ch/disch</tspan></text>
<text id="L9" x="250.16" y="131.30" fill="#ff0000" stroke="#ff0000" stroke-width="0.18" font-weight="bold" font-size="6.4" textLength="24.67" lengthAdjust="spacingAndGlyphs"><tspan>6C</tspan><tspan font-size="4.6" dy="2.0">ch/disch</tspan></text>
<text id="L10" x="269.66" y="151.10" fill="#ff0000" stroke="#ff0000" stroke-width="0.18" font-weight="bold" font-size="6.4" textLength="24.60" lengthAdjust="spacingAndGlyphs"><tspan>8C</tspan><tspan font-size="4.6" dy="2.0">ch/disch</tspan></text>
<text id="L11" x="281.78" y="73.30" fill="#ff0000" stroke="#ff0000" stroke-width="0.18" font-weight="bold" font-size="6.4" textLength="23.68" lengthAdjust="spacingAndGlyphs"><tspan>1C</tspan><tspan font-size="4.6" dy="2.0">ch/disch</tspan></text>
</svg>
</body></html>
